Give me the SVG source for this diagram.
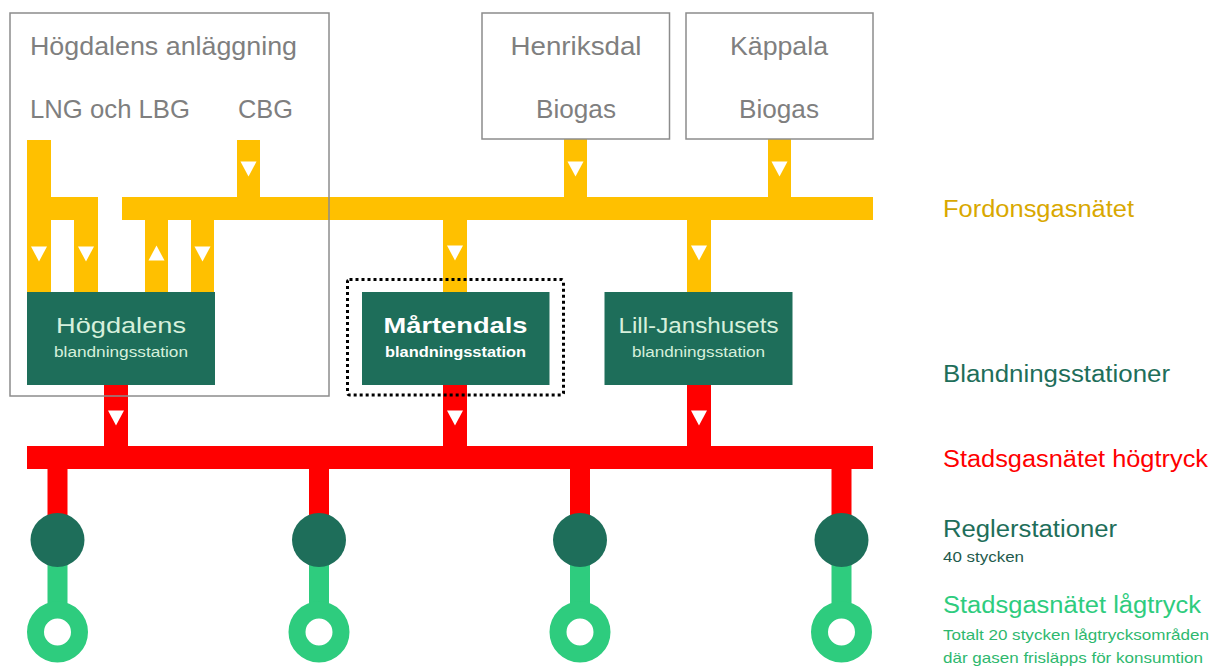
<svg xmlns="http://www.w3.org/2000/svg" width="1214" height="666" viewBox="0 0 1214 666">
<style>
text{font-family:"Liberation Sans",Arial,sans-serif}
.y{fill:#FFC000}
.r{fill:#FF0000}
.g{fill:#2ECC7E}
.src{fill:none;stroke:#8C8C8C;stroke-width:1.5}
.srct{fill:#7F7F7F;font-size:26px}
.st{fill:#1E6E5A}
.nt{fill:#D6F0DC;text-anchor:middle}
.ntb{fill:#FFFFFF;text-anchor:middle;font-weight:bold}
.arw{fill:#FFFFFF}
.reg{fill:#1E6E5A}
.lp{fill:none;stroke:#2ECC7E;stroke-width:17}
</style>
<defs>
<path id="dn" d="M-8,-7.5 L8,-7.5 L0,7.5 Z"/>
<path id="up" d="M-8,7.5 L8,7.5 L0,-7.5 Z"/>
</defs>
<rect width="1214" height="666" fill="#FFFFFF"/>

<g id="connectors">
<!-- yellow: fordonsgasnätet -->
<rect class="y" x="27" y="140" width="24" height="152"/>
<rect class="y" x="27" y="197" width="71" height="23"/>
<rect class="y" x="74" y="197" width="24" height="95"/>
<rect class="y" x="122" y="197" width="751" height="23"/>
<rect class="y" x="145" y="220" width="23" height="72"/>
<rect class="y" x="191" y="220" width="23" height="72"/>
<rect class="y" x="237" y="140" width="23" height="57"/>
<rect class="y" x="564" y="139" width="23" height="58"/>
<rect class="y" x="768" y="139" width="23" height="58"/>
<rect class="y" x="443" y="220" width="24" height="72"/>
<rect class="y" x="687" y="220" width="24" height="72"/>
<!-- red: högtryck -->
<rect class="r" x="104" y="385" width="24" height="61"/>
<rect class="r" x="443" y="385" width="24" height="61"/>
<rect class="r" x="687" y="385" width="24" height="61"/>
<rect class="r" x="27" y="446" width="846" height="23"/>
<rect class="r" x="47.5" y="469" width="20" height="50"/>
<rect class="r" x="309" y="469" width="20" height="50"/>
<rect class="r" x="570" y="469" width="20" height="50"/>
<rect class="r" x="831.5" y="469" width="20" height="50"/>
<!-- green: lågtryck -->
<rect class="g" x="47.5" y="560" width="20" height="55"/>
<rect class="g" x="309" y="560" width="20" height="55"/>
<rect class="g" x="570" y="560" width="20" height="55"/>
<rect class="g" x="831.5" y="560" width="20" height="55"/>
<!-- arrows -->
<use href="#dn" class="arw" x="39" y="254"/>
<use href="#dn" class="arw" x="86" y="254"/>
<use href="#up" class="arw" x="156.5" y="253"/>
<use href="#dn" class="arw" x="202.5" y="254"/>
<use href="#dn" class="arw" x="248.5" y="169"/>
<use href="#dn" class="arw" x="575.5" y="169"/>
<use href="#dn" class="arw" x="779.5" y="169"/>
<use href="#dn" class="arw" x="455" y="253"/>
<use href="#dn" class="arw" x="699" y="253"/>
<use href="#dn" class="arw" x="116" y="418"/>
<use href="#dn" class="arw" x="455" y="418"/>
<use href="#dn" class="arw" x="699" y="418"/>
</g>

<g id="hogdalens-anlaggning">
<rect class="src" x="10" y="13" width="319" height="383"/>
<text class="srct" x="30" y="55" textLength="267" lengthAdjust="spacingAndGlyphs">Högdalens anläggning</text>
<text class="srct" x="30" y="118" textLength="160" lengthAdjust="spacingAndGlyphs">LNG och LBG</text>
<text class="srct" x="238" y="118" textLength="55" lengthAdjust="spacingAndGlyphs">CBG</text>
</g>

<g id="henriksdal">
<rect class="src" x="482" y="13" width="187.5" height="126"/>
<text class="srct" x="576" y="55" text-anchor="middle" textLength="131" lengthAdjust="spacingAndGlyphs">Henriksdal</text>
<text class="srct" x="576" y="118" text-anchor="middle" textLength="80" lengthAdjust="spacingAndGlyphs">Biogas</text>
</g>

<g id="kappala">
<rect class="src" x="686" y="13" width="187" height="126"/>
<text class="srct" x="779" y="55" text-anchor="middle" textLength="98" lengthAdjust="spacingAndGlyphs">Käppala</text>
<text class="srct" x="779" y="118" text-anchor="middle" textLength="80" lengthAdjust="spacingAndGlyphs">Biogas</text>
</g>

<g id="hogdalens-blandningsstation">
<rect class="st" x="27" y="292" width="188" height="93"/>
<text class="nt" x="121" y="333" font-size="22" textLength="130" lengthAdjust="spacingAndGlyphs">Högdalens</text>
<text class="nt" x="121" y="357" font-size="14" textLength="134" lengthAdjust="spacingAndGlyphs">blandningsstation</text>
</g>

<g id="martendals-blandningsstation">
<rect class="st" x="362" y="292" width="187.5" height="93"/>
<text class="ntb" x="455.5" y="333" font-size="22" textLength="144" lengthAdjust="spacingAndGlyphs">Mårtendals</text>
<text class="ntb" x="455.5" y="357" font-size="14" textLength="141" lengthAdjust="spacingAndGlyphs">blandningsstation</text>
<rect x="347.5" y="279.5" width="216" height="115.5" rx="2" fill="none" stroke="#000000" stroke-width="3" stroke-dasharray="3 3"/>
</g>

<g id="lill-janshusets-blandningsstation">
<rect class="st" x="604.5" y="292" width="188" height="93"/>
<text class="nt" x="698.5" y="333" font-size="22" textLength="160" lengthAdjust="spacingAndGlyphs">Lill-Janshusets</text>
<text class="nt" x="698.5" y="357" font-size="14" textLength="133" lengthAdjust="spacingAndGlyphs">blandningsstation</text>
</g>

<g id="reglerstationer">
<circle class="reg" cx="57.5" cy="540" r="27"/>
<circle class="reg" cx="319" cy="540" r="27"/>
<circle class="reg" cx="580" cy="540" r="27"/>
<circle class="reg" cx="841.5" cy="540" r="27"/>
</g>

<g id="lagtrycksomraden">
<circle class="lp" cx="57.5" cy="632" r="22"/>
<circle class="lp" cx="319" cy="632" r="22"/>
<circle class="lp" cx="580" cy="632" r="22"/>
<circle class="lp" cx="841.5" cy="632" r="22"/>
</g>

<g id="legend">
<text x="943" y="217" font-size="23" fill="#D9A800" textLength="191" lengthAdjust="spacingAndGlyphs">Fordonsgasnätet</text>
<text x="943" y="382" font-size="23" fill="#1E6E5A" textLength="227" lengthAdjust="spacingAndGlyphs">Blandningsstationer</text>
<text x="943" y="467" font-size="23" fill="#FF0000" textLength="265" lengthAdjust="spacingAndGlyphs">Stadsgasnätet högtryck</text>
<text x="943" y="537" font-size="23" fill="#1E6E5A" textLength="174" lengthAdjust="spacingAndGlyphs">Reglerstationer</text>
<text x="943" y="562" font-size="14" fill="#1E5A4C" textLength="81" lengthAdjust="spacingAndGlyphs">40 stycken</text>
<text x="943" y="613" font-size="23" fill="#2ECC7E" textLength="258" lengthAdjust="spacingAndGlyphs">Stadsgasnätet lågtryck</text>
<text x="943" y="640" font-size="15" fill="#2EB86E" textLength="266" lengthAdjust="spacingAndGlyphs">Totalt 20 stycken lågtrycksområden</text>
<text x="943" y="663" font-size="15" fill="#2EB86E" textLength="260" lengthAdjust="spacingAndGlyphs">där gasen frisläpps för konsumtion</text>
</g>
</svg>
